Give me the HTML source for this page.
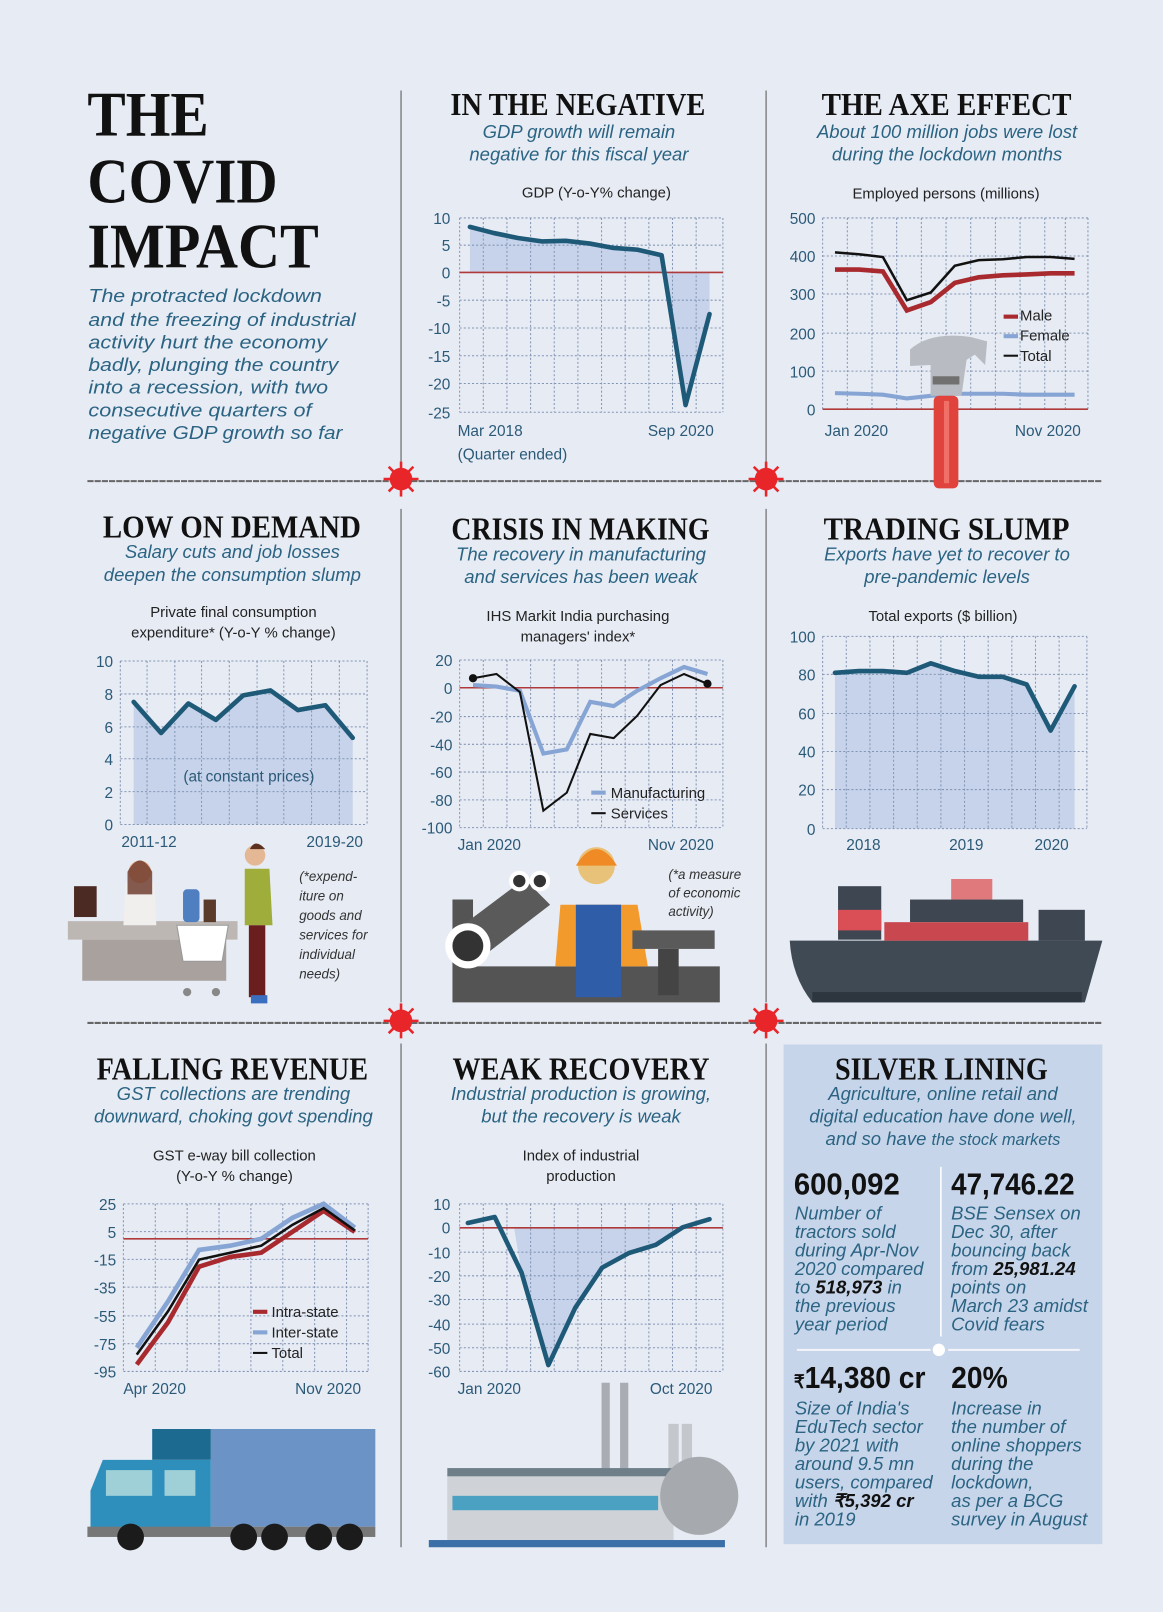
<!DOCTYPE html>
<html><head><meta charset="utf-8"><style>
html,body{margin:0;padding:0;background:#e7ebf4;}
#w{width:1163px;height:1612px;overflow:hidden;position:relative;background:#e7ebf4;}
svg{position:absolute;left:0;top:0;}
.h{font-family:"Liberation Serif",serif;font-weight:bold;fill:#111;}
.s{font-family:"Liberation Sans",sans-serif;font-style:italic;fill:#2b6483;font-size:18px;}
.c{font-family:"Liberation Sans",sans-serif;fill:#222;font-size:14.5px;}
.t{font-family:"Liberation Sans",sans-serif;fill:#2b5a78;font-size:15px;}
.n{font-family:"Liberation Sans",sans-serif;font-style:italic;fill:#333;font-size:13px;}
.b{font-family:"Liberation Sans",sans-serif;font-weight:bold;fill:#111;}
.g{stroke:#8496b5;stroke-width:1;stroke-dasharray:2,2;fill:none;}
.ln{fill:none;stroke:#1e5a78;stroke-width:4.5;stroke-linejoin:round;stroke-linecap:round;}
.f{fill:#c6d3ea;}
.z{stroke:#b03a3a;stroke-width:1.5;}
</style></head><body><div id="w">
<svg width="1163" height="1612" viewBox="0 0 1131 1568" preserveAspectRatio="none">
<defs>
<g id="virus"><circle r="11" fill="#e8262a"/>
<g stroke="#e8262a" stroke-width="2.5"><line x1="0" y1="-17" x2="0" y2="17"/><line x1="-17" y1="0" x2="17" y2="0"/><line x1="-12" y1="-12" x2="12" y2="12"/><line x1="-12" y1="12" x2="12" y2="-12"/></g></g>
</defs>
<!-- dividers -->
<g stroke="#555" stroke-width="1">
<line x1="390" y1="88" x2="390" y2="450"/><line x1="745" y1="88" x2="745" y2="450"/>
<line x1="390" y1="495" x2="390" y2="975"/><line x1="745" y1="495" x2="745" y2="975"/>
<line x1="390" y1="1015" x2="390" y2="1505"/><line x1="745" y1="1015" x2="745" y2="1505"/>
</g>
<g stroke="#666" stroke-width="2" stroke-dasharray="6,1">
<line x1="85" y1="468" x2="1072" y2="468"/><line x1="85" y1="995" x2="1072" y2="995"/>
</g>
<use href="#virus" x="390" y="466"/><use href="#virus" x="745" y="466"/>
<use href="#virus" x="390" y="993"/><use href="#virus" x="745" y="993"/>

<!-- Panel 1 -->
<text class="h" x="85" y="132" font-size="62" textLength="118" lengthAdjust="spacingAndGlyphs">THE</text>
<text class="h" x="85" y="197" font-size="62" textLength="185" lengthAdjust="spacingAndGlyphs">COVID</text>
<text class="h" x="85" y="260" font-size="62" textLength="225" lengthAdjust="spacingAndGlyphs">IMPACT</text>
<g class="s" font-size="19">
<text x="86" y="294" textLength="227" lengthAdjust="spacingAndGlyphs">The protracted lockdown</text>
<text x="86" y="317" textLength="260" lengthAdjust="spacingAndGlyphs">and the freezing of industrial</text>
<text x="86" y="339" textLength="232" lengthAdjust="spacingAndGlyphs">activity hurt the economy</text>
<text x="86" y="361" textLength="243" lengthAdjust="spacingAndGlyphs">badly, plunging the country</text>
<text x="86" y="383" textLength="233" lengthAdjust="spacingAndGlyphs">into a recession, with two</text>
<text x="86" y="405" textLength="217" lengthAdjust="spacingAndGlyphs">consecutive quarters of</text>
<text x="86" y="427" textLength="247" lengthAdjust="spacingAndGlyphs">negative GDP growth so far</text>
</g>

<!-- Panel 2 GDP -->
<text class="h" x="438" y="112" font-size="31" textLength="248" lengthAdjust="spacingAndGlyphs">IN THE NEGATIVE</text>
<text class="s" x="563" y="134" text-anchor="middle">GDP growth will remain</text>
<text class="s" x="563" y="156" text-anchor="middle">negative for this fiscal year</text>
<text class="c" x="580" y="192" text-anchor="middle">GDP (Y-o-Y% change)</text>
<path class="f" d="M457,265 L457,220.7 L480.3,226.7 L503.6,231.5 L526.9,234.8 L550.2,234.2 L573.5,236.9 L596.8,241.2 L620.1,242.9 L643.4,248.3 L666.7,394 L690,305.5 L690,265 Z"/>
<g class="g">
<path d="M447,212H703M447,238.5H703M447,265H703M447,292H703M447,319H703M447,346H703M447,373H703M447,401H703"/>
<path d="M447,212V401M470,212V401M493,212V401M516,212V401M539,212V401M562,212V401M585,212V401M608,212V401M631,212V401M654,212V401M677,212V401M703,212V401"/>
</g>
<line class="z" x1="447" y1="265" x2="703" y2="265"/>
<polyline class="ln" points="457,220.7 480.3,226.7 503.6,231.5 526.9,234.8 550.2,234.2 573.5,236.9 596.8,241.2 620.1,242.9 643.4,248.3 666.7,394 690,305.5"/>
<g class="t" text-anchor="end">
<text x="438" y="218">10</text><text x="438" y="244">5</text><text x="438" y="271">0</text><text x="438" y="298">-5</text><text x="438" y="325">-10</text><text x="438" y="352">-15</text><text x="438" y="379">-20</text><text x="438" y="407">-25</text>
</g>
<text class="t" x="445" y="424">Mar 2018</text><text class="t" x="630" y="424">Sep 2020</text>
<text class="t" x="445" y="447">(Quarter ended)</text>

<!-- Panel 3 Employment -->
<text class="h" x="799" y="112" font-size="31" textLength="243" lengthAdjust="spacingAndGlyphs">THE AXE EFFECT</text>
<text class="s" x="921" y="134" text-anchor="middle">About 100 million jobs were lost</text>
<text class="s" x="921" y="156" text-anchor="middle">during the lockdown months</text>
<text class="c" x="920" y="193" text-anchor="middle">Employed persons (millions)</text>
<g class="g">
<path d="M800,212H1058M800,249H1058M800,286H1058M800,324H1058M800,361H1058"/>
<path d="M800,212V398M824,212V398M848,212V398M872,212V398M896,212V398M920,212V398M944,212V398M968,212V398M992,212V398M1016,212V398M1036,212V398M1058,212V398"/>
</g>
<line class="z" x1="800" y1="398" x2="1058" y2="398"/>
<g class="t" text-anchor="end"><text x="793" y="218">500</text><text x="793" y="255">400</text><text x="793" y="292">300</text><text x="793" y="330">200</text><text x="793" y="367">100</text><text x="793" y="404">0</text></g>
<text class="t" x="802" y="424">Jan 2020</text><text class="t" x="987" y="424">Nov 2020</text>
<polyline fill="none" stroke="#86a5d4" stroke-width="4" points="812,382.4 835.3,383 858.6,383.9 881.9,387.6 905.2,385 928.5,383 951.8,383 975.1,383 998.4,383.9 1021.7,383.9 1045,383.9"/>
<polyline fill="none" stroke="#a82a2e" stroke-width="4.5" points="812,262.2 835.3,262.2 858.6,264 881.9,302 905.2,293.8 928.5,275.2 951.8,269.7 975.1,267.8 998.4,267 1021.7,265.9 1045,265.9"/>
<polyline fill="none" stroke="#111" stroke-width="2.5" points="812,245.5 835.3,247.3 858.6,250 881.9,292 905.2,284.5 928.5,258.5 951.8,253 975.1,252.2 998.4,250 1021.7,250 1045,251.8"/>
<!-- hammer -->
<path d="M885,340 Q905,322 945,328 L960,332 L958,355 L948,345 L940,350 L935,385 L905,385 L905,355 L885,356 Z" fill="#b8bcc2"/>
<rect x="907" y="366" width="26" height="8" fill="#707070"/>
<rect x="908" y="385" width="24" height="90" rx="5" fill="#e0433c"/>
<rect x="918" y="390" width="5" height="80" fill="#f07068"/>
<rect x="976" y="306" width="14" height="4" fill="#a82a2e"/><text class="c" x="992" y="312">Male</text>
<rect x="976" y="325" width="14" height="4" fill="#86a5d4"/><text class="c" x="992" y="331">Female</text>
<rect x="976" y="345" width="14" height="2" fill="#111"/><text class="c" x="992" y="351">Total</text>

<!-- Panel 4 PFCE -->
<text class="h" x="100" y="523" font-size="31" textLength="251" lengthAdjust="spacingAndGlyphs">LOW ON DEMAND</text>
<text class="s" x="226" y="543" text-anchor="middle">Salary cuts and job losses</text>
<text class="s" x="226" y="565" text-anchor="middle">deepen the consumption slump</text>
<text class="c" x="227" y="600" text-anchor="middle">Private final consumption</text>
<text class="c" x="227" y="620" text-anchor="middle">expenditure* (Y-o-Y % change)</text>
<path class="f" d="M130,802 L130,682.8 L156.6,713 L183.2,684.3 L209.9,700.2 L236.5,676.4 L263.1,671.6 L289.7,690.7 L316.4,686 L343,717.7 L343,802 Z"/>
<g class="g">
<path d="M117,643H357M117,675H357M117,707H357M117,738H357M117,770H357M117,802H357"/>
<path d="M117,643V802M143,643V802M170,643V802M196,643V802M223,643V802M250,643V802M276,643V802M303,643V802M330,643V802M357,643V802"/>
</g>
<polyline class="ln" points="130,682.8 156.6,713 183.2,684.3 209.9,700.2 236.5,676.4 263.1,671.6 289.7,690.7 316.4,686 343,717.7"/>
<text class="t" x="242" y="760" text-anchor="middle">(at constant prices)</text>
<g class="t" text-anchor="end"><text x="110" y="649">10</text><text x="110" y="681">8</text><text x="110" y="713">6</text><text x="110" y="744">4</text><text x="110" y="776">2</text><text x="110" y="808">0</text></g>
<text class="t" x="118" y="824">2011-12</text><text class="t" x="298" y="824">2019-20</text>
<!-- shopping illustration -->
<rect x="66" y="896" width="165" height="18" fill="#bdb7b4"/>
<rect x="80" y="914" width="140" height="40" fill="#a8a19d"/>
<rect x="72" y="862" width="22" height="30" fill="#4a2a22"/>
<path d="M120,900 L122,860 Q135,835 150,860 L152,900 Z" fill="#f0efee"/>
<circle cx="136" cy="848" r="11" fill="#e5b895"/><path d="M124,848 Q136,826 148,848 L148,870 L124,870 Z" fill="#6a3525" opacity="0.8"/>
<rect x="178" y="865" width="16" height="32" rx="4" fill="#4f7fc0"/>
<rect x="198" y="875" width="12" height="22" fill="#5a3a2a"/>
<path d="M172,900 L222,900 L216,935 L178,935 Z" fill="#fff" stroke="#999"/>
<circle cx="182" cy="965" r="4" fill="#888"/><circle cx="210" cy="965" r="4" fill="#888"/>
<circle cx="248" cy="832" r="10" fill="#e5b895"/><path d="M243,826 Q248,815 258,826 Z" fill="#5a3020"/>
<path d="M238,845 L262,845 L265,900 L238,900 Z" fill="#9fae3b"/>
<rect x="242" y="900" width="16" height="70" fill="#6b1e1e"/>
<rect x="244" y="968" width="16" height="8" fill="#3a6fc0"/>
<g class="n"><text x="291" y="857">(*expend-</text><text x="291" y="876">iture on</text><text x="291" y="895">goods and</text><text x="291" y="914">services for</text><text x="291" y="933">individual</text><text x="291" y="952">needs)</text></g>

<!-- Panel 5 PMI -->
<text class="h" x="439" y="525" font-size="31" textLength="251" lengthAdjust="spacingAndGlyphs">CRISIS IN MAKING</text>
<text class="s" x="565" y="545" text-anchor="middle">The recovery in manufacturing</text>
<text class="s" x="565" y="567" text-anchor="middle">and services has been weak</text>
<text class="c" x="562" y="604" text-anchor="middle">IHS Markit India purchasing</text>
<text class="c" x="562" y="624" text-anchor="middle">managers' index*</text>
<g class="g">
<path d="M447,642H703M447,669H703M447,697H703M447,724H703M447,751H703M447,778H703M447,805H703"/>
<path d="M447,642V805M470,642V805M493,642V805M516,642V805M539,642V805M562,642V805M585,642V805M608,642V805M631,642V805M654,642V805M677,642V805M703,642V805"/>
</g>
<line class="z" x1="447" y1="669" x2="703" y2="669"/>
<polyline fill="none" stroke="#86a5d4" stroke-width="4" points="460,666.4 482.8,667.8 505.6,671.9 528.4,733 551.2,728.9 574,682.7 596.8,686.8 619.6,671.9 642.4,659.7 665.2,648.8 688,655.6"/>
<polyline fill="none" stroke="#111" stroke-width="2" points="460,659.7 482.8,655.6 505.6,673.2 528.4,788.6 551.2,771 574,713.9 596.8,718 619.6,696.3 642.4,666.4 665.2,655.6 688,665.1"/>
<circle cx="460" cy="659.7" r="4" fill="#111"/><circle cx="688" cy="665.1" r="4" fill="#111"/>
<g class="t" text-anchor="end"><text x="440" y="648">20</text><text x="440" y="675">0</text><text x="440" y="703">-20</text><text x="440" y="730">-40</text><text x="440" y="757">-60</text><text x="440" y="784">-80</text><text x="440" y="811">-100</text></g>
<text class="t" x="445" y="827">Jan 2020</text><text class="t" x="630" y="827">Nov 2020</text>
<rect x="575" y="769" width="14" height="4" fill="#86a5d4"/><text class="c" x="594" y="776">Manufacturing</text>
<rect x="575" y="790" width="14" height="2" fill="#111"/><text class="c" x="594" y="796">Services</text>
<!-- factory worker -->
<path d="M440,875 L440,975 L700,975 L700,940 L460,940 L460,875 Z" fill="#545454"/>
<path d="M450,900 L510,855 L535,880 L470,930 Z" fill="#5a5a5a"/>
<circle cx="455" cy="920" r="22" fill="#fff"/><circle cx="455" cy="920" r="15" fill="#333"/>
<circle cx="505" cy="857" r="10" fill="#fff"/><circle cx="505" cy="857" r="6" fill="#333"/>
<circle cx="525" cy="857" r="10" fill="#fff"/><circle cx="525" cy="857" r="6" fill="#333"/>
<circle cx="580" cy="842" r="18" fill="#e9c27a"/><path d="M560,842 Q580,810 600,842 Z" fill="#f08a24"/>
<path d="M545,880 L620,880 L630,940 L540,940 Z" fill="#f39a2d"/>
<rect x="560" y="880" width="44" height="90" fill="#2f5da8"/>
<rect x="615" y="905" width="80" height="18" fill="#5a5a5a"/><rect x="640" y="923" width="20" height="45" fill="#444"/>
<g class="n"><text x="650" y="855">(*a measure</text><text x="650" y="873">of economic</text><text x="650" y="891">activity)</text></g>

<!-- Panel 6 exports -->
<text class="h" x="801" y="525" font-size="31" textLength="239" lengthAdjust="spacingAndGlyphs">TRADING SLUMP</text>
<text class="s" x="921" y="545" text-anchor="middle">Exports have yet to recover to</text>
<text class="s" x="921" y="567" text-anchor="middle">pre-pandemic levels</text>
<text class="c" x="917" y="604" text-anchor="middle">Total exports ($ billion)</text>
<path class="f" d="M812,806 L812,654.5 L835.3,652.7 L858.6,652.7 L881.9,654.5 L905.2,645.2 L928.5,652.7 L951.8,658.3 L975.1,658.3 L998.4,665.8 L1021.7,710.6 L1045,667.6 L1045,806 Z"/>
<g class="g">
<path d="M800,619H1057M800,656H1057M800,694H1057M800,731H1057M800,768H1057M800,806H1057"/>
<path d="M800,619V806M823,619V806M846,619V806M869,619V806M892,619V806M915,619V806M938,619V806M961,619V806M984,619V806M1007,619V806M1030,619V806M1057,619V806"/>
</g>
<polyline class="ln" points="812,654.5 835.3,652.7 858.6,652.7 881.9,654.5 905.2,645.2 928.5,652.7 951.8,658.3 975.1,658.3 998.4,665.8 1021.7,710.6 1045,667.6"/>
<g class="t" text-anchor="end"><text x="793" y="625">100</text><text x="793" y="662">80</text><text x="793" y="700">60</text><text x="793" y="737">40</text><text x="793" y="774">20</text><text x="793" y="812">0</text></g>
<text class="t" x="823" y="827">2018</text><text class="t" x="923" y="827">2019</text><text class="t" x="1006" y="827">2020</text>
<!-- ship -->
<path d="M768,915 L1072,915 L1055,975 L790,975 Q770,950 768,915 Z" fill="#3f4a55"/>
<rect x="790" y="965" width="262" height="10" fill="#2d363f"/>
<rect x="815" y="862" width="42" height="52" fill="#3d4651"/><rect x="815" y="885" width="42" height="20" fill="#d94f55"/>
<rect x="925" y="855" width="40" height="20" fill="#e0797b"/>
<rect x="885" y="875" width="110" height="22" fill="#3d4651"/>
<rect x="860" y="897" width="140" height="18" fill="#c9484f"/>
<rect x="1010" y="885" width="45" height="30" fill="#3d4651"/>

<!-- Row 3 GST -->
<text class="h" x="94" y="1050" font-size="31" textLength="264" lengthAdjust="spacingAndGlyphs">FALLING REVENUE</text>
<text class="s" x="227" y="1070" text-anchor="middle">GST collections are trending</text>
<text class="s" x="227" y="1092" text-anchor="middle">downward, choking govt spending</text>
<text class="c" x="228" y="1129" text-anchor="middle">GST e-way bill collection</text>
<text class="c" x="228" y="1149" text-anchor="middle">(Y-o-Y % change)</text>
<g class="g">
<path d="M120,1171H358M120,1198H358M120,1225H358M120,1252H358M120,1280H358M120,1307H358M120,1334H358"/>
<path d="M120,1171V1334M151,1171V1334M182,1171V1334M213,1171V1334M244,1171V1334M275,1171V1334M306,1171V1334M337,1171V1334M358,1171V1334"/>
</g>
<line class="z" x1="120" y1="1205" x2="358" y2="1205"/>
<polyline fill="none" stroke="#86a5d4" stroke-width="4.5" points="133,1310.9 163.3,1266 193.6,1215.8 223.9,1211.7 254.1,1205 284.4,1184.6 314.7,1171 345,1194.1"/>
<polyline fill="none" stroke="#a82a2e" stroke-width="4.5" points="133,1327.2 163.3,1286.4 193.6,1232.1 223.9,1222.6 254.1,1218.5 284.4,1198.2 314.7,1177.8 345,1198.2"/>
<polyline fill="none" stroke="#111" stroke-width="2.5" points="133,1317.7 163.3,1275.6 193.6,1225.3 223.9,1218.5 254.1,1211.7 284.4,1191.4 314.7,1175.1 345,1196.8"/>
<g class="t" text-anchor="end"><text x="113" y="1177">25</text><text x="113" y="1204">5</text><text x="113" y="1231">-15</text><text x="113" y="1258">-35</text><text x="113" y="1286">-55</text><text x="113" y="1313">-75</text><text x="113" y="1340">-95</text></g>
<text class="t" x="120" y="1356">Apr 2020</text><text class="t" x="287" y="1356">Nov 2020</text>
<rect x="246" y="1274" width="14" height="4" fill="#a82a2e"/><text class="c" x="264" y="1281">Intra-state</text>
<rect x="246" y="1294" width="14" height="4" fill="#86a5d4"/><text class="c" x="264" y="1301">Inter-state</text>
<rect x="246" y="1315" width="14" height="2" fill="#111"/><text class="c" x="264" y="1321">Total</text>
<!-- truck -->
<rect x="205" y="1390" width="160" height="95" fill="#6c93c6"/>
<rect x="148" y="1390" width="57" height="30" fill="#1d6a91"/>
<path d="M100,1420 L205,1420 L205,1490 L88,1490 L88,1450 Z" fill="#2f8fbc"/>
<rect x="103" y="1430" width="45" height="25" fill="#9fd0d8"/>
<rect x="160" y="1430" width="30" height="25" fill="#9fd0d8"/>
<rect x="85" y="1485" width="280" height="10" fill="#777"/>
<g fill="#1b1b1b"><circle cx="127" cy="1495" r="13"/><circle cx="237" cy="1495" r="13"/><circle cx="267" cy="1495" r="13"/><circle cx="310" cy="1495" r="13"/><circle cx="340" cy="1495" r="13"/></g>

<!-- Weak recovery -->
<text class="h" x="440" y="1050" font-size="31" textLength="250" lengthAdjust="spacingAndGlyphs">WEAK RECOVERY</text>
<text class="s" x="565" y="1070" text-anchor="middle">Industrial production is growing,</text>
<text class="s" x="565" y="1092" text-anchor="middle">but the recovery is weak</text>
<text class="c" x="565" y="1129" text-anchor="middle">Index of industrial</text>
<text class="c" x="565" y="1149" text-anchor="middle">production</text>
<path class="f" d="M500,1194.3 L507.2,1237.9 L533.3,1327.8 L559.4,1272.1 L585.6,1233 L611.7,1218.8 L637.8,1210.8 L663.9,1194.3 Z"/>
<g class="g">
<path d="M447,1171H703M447,1194H703M447,1218H703M447,1241H703M447,1264H703M447,1288H703M447,1311H703M447,1334H703"/>
<path d="M447,1171V1334M470,1171V1334M493,1171V1334M516,1171V1334M539,1171V1334M562,1171V1334M585,1171V1334M608,1171V1334M631,1171V1334M654,1171V1334M677,1171V1334M703,1171V1334"/>
</g>
<line class="z" x1="447" y1="1194.3" x2="703" y2="1194.3"/>
<polyline class="ln" points="455,1189.6 481.1,1183.8 507.2,1237.9 533.3,1327.8 559.4,1272.1 585.6,1233 611.7,1218.8 637.8,1210.8 663.9,1193.8 690,1185.9"/>
<g class="t" text-anchor="end"><text x="438" y="1177">10</text><text x="438" y="1200">0</text><text x="438" y="1224">-10</text><text x="438" y="1247">-20</text><text x="438" y="1270">-30</text><text x="438" y="1294">-40</text><text x="438" y="1317">-50</text><text x="438" y="1340">-60</text></g>
<text class="t" x="445" y="1356">Jan 2020</text><text class="t" x="632" y="1356">Oct 2020</text>
<!-- factory -->
<rect x="585" y="1345" width="8" height="90" fill="#a9adb3"/><rect x="603" y="1345" width="8" height="90" fill="#a9adb3"/>
<rect x="650" y="1385" width="10" height="60" fill="#c4c7cc"/><rect x="663" y="1385" width="10" height="60" fill="#c4c7cc"/>
<rect x="435" y="1435" width="220" height="65" fill="#cfd2d6"/>
<rect x="435" y="1428" width="220" height="8" fill="#6f7f8a"/>
<rect x="440" y="1455" width="200" height="14" fill="#4aa1c2"/>
<circle cx="680" cy="1455" r="38" fill="#a6a9ae"/>
<rect x="417" y="1498" width="288" height="7" fill="#3b6fa8"/>

<!-- Silver lining -->
<rect x="762" y="1016" width="310" height="486" fill="#c7d5ea"/>
<text class="h" x="812" y="1050" font-size="31" textLength="207" lengthAdjust="spacingAndGlyphs">SILVER LINING</text>
<text class="s" x="917" y="1070" text-anchor="middle">Agriculture, online retail and</text>
<text class="s" x="917" y="1092" text-anchor="middle">digital education have done well,</text>
<text class="s" x="917" y="1114" text-anchor="middle">and so have <tspan font-size="16">the stock markets</tspan></text>
<line x1="915" y1="1135" x2="915" y2="1300" stroke="#fff" stroke-width="1.5"/>
<text class="b" x="772" y="1162" font-size="30" textLength="103" lengthAdjust="spacingAndGlyphs">600,092</text>
<text class="b" x="925" y="1162" font-size="30" textLength="120" lengthAdjust="spacingAndGlyphs">47,746.22</text>
<g class="s" font-size="16.5">
<text x="773" y="1186">Number of</text><text x="773" y="1204">tractors sold</text><text x="773" y="1222">during Apr-Nov</text><text x="773" y="1240">2020 compared</text><text x="773" y="1258">to <tspan font-weight="bold" fill="#111">518,973</tspan> in</text><text x="773" y="1276">the previous</text><text x="773" y="1294">year period</text>
<text x="925" y="1186">BSE Sensex on</text><text x="925" y="1204">Dec 30, after</text><text x="925" y="1222">bouncing back</text><text x="925" y="1240">from <tspan font-weight="bold" fill="#111">25,981.24</tspan></text><text x="925" y="1258">points on</text><text x="925" y="1276">March 23 amidst</text><text x="925" y="1294">Covid fears</text>
</g>
<line x1="775" y1="1313" x2="905" y2="1313" stroke="#f3f5fa" stroke-width="2"/><line x1="922" y1="1313" x2="1050" y2="1313" stroke="#f3f5fa" stroke-width="2"/>
<circle cx="913" cy="1313" r="6" fill="#fff"/>
<text class="b" x="772" y="1350" font-size="30" textLength="128" lengthAdjust="spacingAndGlyphs"><tspan font-size="18">₹</tspan>14,380 cr</text>
<text class="b" x="925" y="1350" font-size="30" textLength="55" lengthAdjust="spacingAndGlyphs">20%</text>
<g class="s" font-size="16.5">
<text x="773" y="1376">Size of India's</text><text x="773" y="1394">EduTech sector</text><text x="773" y="1412">by 2021 with</text><text x="773" y="1430">around 9.5 mn</text><text x="773" y="1448">users, compared</text><text x="773" y="1466">with <tspan font-weight="bold" fill="#111">₹5,392 cr</tspan></text><text x="773" y="1484">in 2019</text>
<text x="925" y="1376">Increase in</text><text x="925" y="1394">the number of</text><text x="925" y="1412">online shoppers</text><text x="925" y="1430">during the</text><text x="925" y="1448">lockdown,</text><text x="925" y="1466">as per a BCG</text><text x="925" y="1484">survey in August</text>
</g>
</svg>
</div></body></html>
